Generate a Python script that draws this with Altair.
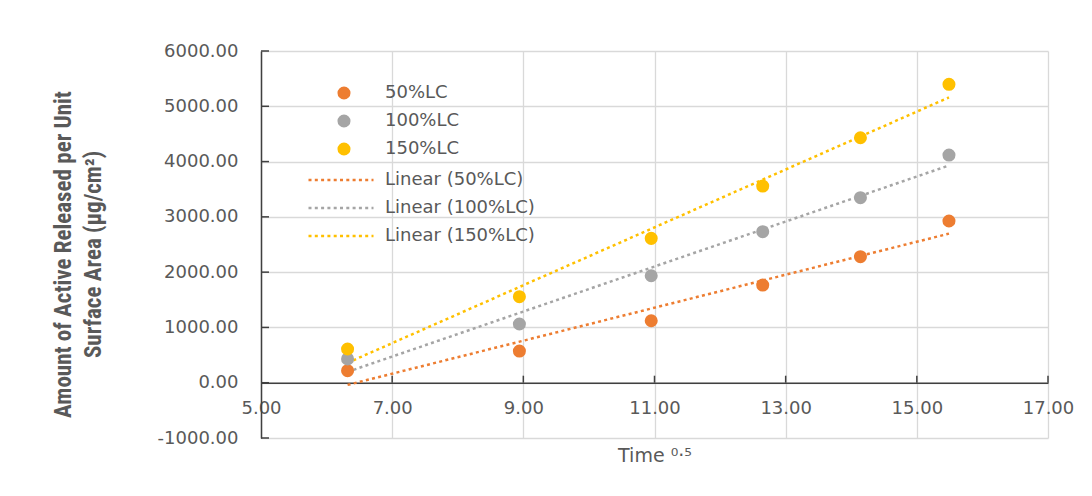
import altair as alt
import pandas as pd

# ---- data ----
time_sqrt = [6.32, 8.94, 10.95, 12.65, 14.14, 15.49]
lc50 = [218, 573, 1121, 1767, 2279, 2925]
lc100 = [430, 1062, 1935, 2731, 3346, 4118]
lc150 = [610, 1556, 2611, 3557, 4431, 5397]
series_names = ["50%LC", "100%LC", "150%LC"]
trend_names = ["Linear (50%LC)", "Linear (100%LC)", "Linear (150%LC)"]
colors = ["#ED7D31", "#A5A5A5", "#FFC000"]
x_ticks = [5, 7, 9, 11, 13, 15, 17]
y_ticks = [-1000, 0, 1000, 2000, 3000, 4000, 5000, 6000]
x_title = "Time ⁰·⁵"
y_title = ["Amount of Active Released per Unit", "Surface Area  (µg/cm²)"]

rows = []
for name, vals in zip(series_names, [lc50, lc100, lc150]):
    for t, v in zip(time_sqrt, vals):
        rows.append({"t": t, "amount": v, "series": name})
df = pd.DataFrame(rows)

W, H = 787, 387
FONT = "DejaVu Sans"
TXT = "#595959"
GRID = "#D9D9D9"
DARK = "#404040"

xscale = alt.Scale(domain=[x_ticks[0], x_ticks[-1]], nice=False, zero=False)
yscale = alt.Scale(domain=[y_ticks[0], y_ticks[-1]], nice=False, zero=False)

x_axis = alt.Axis(
    values=x_ticks, format=".2f", grid=True, gridColor=GRID, gridWidth=1.3,
    domainColor=DARK, domainWidth=1.5, ticks=False, tickSize=0,
    labelFont=FONT, labelFontSize=18, labelColor=TXT, labelPadding=26,
    labelBaseline="middle", labelFlush=False, labelOverlap=False,
    offset=-H / 7,
    title=x_title, titleFont=FONT, titleFontSize=19, titleFontWeight="normal",
    titleColor=TXT, titleX=W / 2, titleY=79, titleAlign="center",
    titleBaseline="alphabetic",
)
y_axis = alt.Axis(
    values=y_ticks, format=".2f", grid=True, gridColor=GRID, gridWidth=1.3,
    domainColor=DARK, domainWidth=1.5, ticks=False, tickSize=0,
    labelFont=FONT, labelFontSize=18, labelColor=TXT, labelPadding=23,
    labelFlush=False, labelOverlap=False,
    labelExpr="replace(datum.label, '\u2212', '-')",
    title=y_title, titleFont="Liberation Sans Narrow, Roboto Condensed, DejaVu Sans Condensed, sans-serif",
    titleFontSize=23, titleFontWeight="bold", titleColor=TXT, titleAngle=270,
    titleX=-191, titleY=203, titleAlign="center", titleBaseline="alphabetic",
    titleLineHeight=30,
)

base = alt.Chart(df)

lines = base.transform_regression(
    "t", "amount", groupby=["series"]
).transform_calculate(
    trend='"Linear (" + datum.series + ")"'
).mark_line(strokeDash=[3, 3.3], strokeWidth=2.5).encode(
    x=alt.X("t:Q", scale=xscale, axis=x_axis),
    y=alt.Y("amount:Q", scale=yscale, axis=y_axis),
    color=alt.Color(
        "trend:N",
        scale=alt.Scale(domain=trend_names, range=colors),
        legend=alt.Legend(
            title=None, orient="none", legendX=71, legendY=120, padding=0,
            symbolType="M-5,0H5", symbolSize=169, symbolStrokeWidth=2.5,
            symbolDash=[3, 3.3], labelFont=FONT, labelFontSize=18,
            labelColor=TXT, labelOffset=35, rowPadding=10,
        ),
    ),
)

points = base.mark_circle(size=170, opacity=1).encode(
    x=alt.X("t:Q", scale=xscale),
    y=alt.Y("amount:Q", scale=yscale),
    color=alt.Color(
        "series:N",
        scale=alt.Scale(domain=series_names, range=colors),
        legend=alt.Legend(
            title=None, orient="none", legendX=74, legendY=33, padding=0,
            symbolType="circle", symbolSize=170, symbolStrokeWidth=0,
            symbolOpacity=1, labelFont=FONT, labelFontSize=18,
            labelColor=TXT, labelOffset=32, rowPadding=10,
        ),
    ),
)

xtick_df = pd.DataFrame({"tx": x_ticks[1:]})
xticks = alt.Chart(xtick_df).mark_rule(color=DARK, strokeWidth=1.5, y2Offset=-7).encode(
    x=alt.X("tx:Q", scale=xscale),
    y=alt.datum(0, scale=yscale),
    y2=alt.datum(0),
)
ytick_df = pd.DataFrame({"ty": y_ticks})
yticks = alt.Chart(ytick_df).mark_rule(color=DARK, strokeWidth=1.5, x2Offset=8).encode(
    y=alt.Y("ty:Q", scale=yscale),
    x=alt.datum(x_ticks[0], scale=xscale),
    x2=alt.datum(x_ticks[0]),
)

chart = alt.layer(lines, points, xticks, yticks).resolve_scale(
    color="independent"
).properties(
    width=W, height=H,
    padding={"left": 253, "top": 43, "right": 36, "bottom": 45},
    autosize="none",
    background="white",
).configure_view(stroke=None)

chart.save("out.html", embed_options={"renderer": "svg", "actions": False})
